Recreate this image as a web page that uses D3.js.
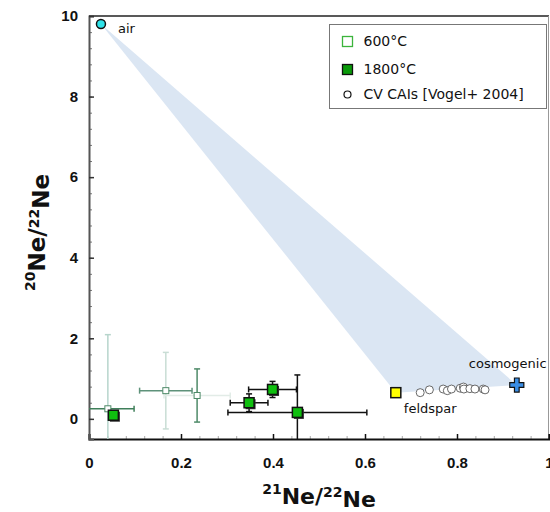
<!DOCTYPE html>
<html>
<head>
<meta charset="utf-8">
<script src="https://cdn.jsdelivr.net/npm/d3@7"></script>
<style>
  body { margin: 0; background: #fff; }
  svg { display: block; font-family: "DejaVu Sans", Verdana, sans-serif; }
</style>
</head>
<body>
<svg id="chart"></svg>
<script>
// 600°C step: x, y, x error, y error
const lowX = [0.041, 0.167, 0.235];
const lowY = [0.25, 0.70, 0.58];
const lowXErr = [0.057, 0.057, 0.072];
const lowYErr = [1.84, 0.95, 0.66];

// 1800°C step
const highX = [0.053, 0.348, 0.399, 0.453];
const highY = [0.09, 0.40, 0.73, 0.16];
const highXErr = [0, 0.041, 0.052, 0.151];
const highYErr = [0, 0.22, 0.20, 0.93];

// CV CAIs [Vogel+ 2004]
const caiX = [0.720, 0.740, 0.770, 0.779, 0.788, 0.807, 0.814, 0.815, 0.828, 0.839, 0.857, 0.861];
const caiY = [0.65, 0.72, 0.74, 0.70, 0.74, 0.76, 0.79, 0.74, 0.75, 0.74, 0.74, 0.72];

// end members
const airPoint = [0.026, 9.8];
const feldsparPoint = [0.667, 0.65];
const cosmogenicPoint = [0.930, 0.84];

const xTicks = [0, 0.2, 0.4, 0.6, 0.8, 1];
const yTicks = [0, 2, 4, 6, 8, 10];

const width = 550;
const height = 512;
const margin = { top: 16, right: 1, bottom: 73, left: 89 };

const svg = d3.select("#chart").attr("width", width).attr("height", height);

const x = d3.scaleLinear().domain([0, 1]).range([margin.left, width - margin.right]);
const y = d3.scaleLinear().domain([-0.5, 10]).range([height - margin.bottom, margin.top]);

svg.append("clipPath").attr("id", "plot-clip")
  .append("rect")
  .attr("x", margin.left).attr("y", margin.top)
  .attr("width", width - margin.left - margin.right)
  .attr("height", height - margin.top - margin.bottom);

// mixing field between air, feldspar and cosmogenic
svg.append("path")
  .datum([airPoint, cosmogenicPoint, feldsparPoint])
  .attr("d", d3.line().x(d => x(d[0])).y(d => y(d[1])).curve(d3.curveLinearClosed))
  .attr("fill", "#dbe6f3");

// frame top and right
svg.append("line").attr("x1", x(0)).attr("x2", x(1)).attr("y1", y(10)).attr("y2", y(10))
  .attr("stroke", "#222").attr("stroke-width", 1.5);
svg.append("line").attr("x1", x(1) - 0.5).attr("x2", x(1) - 0.5).attr("y1", y(10)).attr("y2", y(-0.5))
  .attr("stroke", "#999").attr("stroke-width", 1);

// axes with inward ticks
const minorX = d3.range(0, 1.0001, 0.04);
const minorY = d3.range(0, 10.0001, 0.4);

const xAxis = svg.append("g").attr("transform", `translate(0,${y(-0.5)})`);
xAxis.call(d3.axisBottom(x).tickValues(minorX).tickSize(-3).tickFormat(""))
  .call(g => g.select(".domain").remove())
  .call(g => g.selectAll("line").attr("stroke", "#aaa"));
xAxis.append("g")
  .call(d3.axisBottom(x).tickValues(xTicks).tickSize(-5).tickPadding(18).tickFormat(d => d === 1 ? "1" : d3.format("")(d)))
  .call(g => g.select(".domain").attr("stroke", "#111").attr("stroke-width", 2))
  .call(g => g.selectAll("line").attr("stroke", "#111").attr("stroke-width", 1.5))
  .call(g => g.selectAll("text").attr("fill", "#111").style("font-size", "15px").style("font-weight", "bold"));

const yAxis = svg.append("g").attr("transform", `translate(${x(0)},0)`);
yAxis.call(d3.axisLeft(y).tickValues(minorY).tickSize(-3).tickFormat(""))
  .call(g => g.select(".domain").remove())
  .call(g => g.selectAll("line").attr("stroke", "#777"));
yAxis.append("g")
  .call(d3.axisLeft(y).tickValues(yTicks).tickSize(-5).tickPadding(11))
  .call(g => g.select(".domain").attr("stroke", "#555").attr("stroke-width", 2))
  .call(g => g.selectAll("line").attr("stroke", "#333").attr("stroke-width", 1.5))
  .call(g => g.selectAll("text").attr("fill", "#111").style("font-size", "15px").style("font-weight", "bold"));

const plot = svg.append("g").attr("clip-path", "url(#plot-clip)");

// error bar helper
function errorBars(xs, ys, xe, ye, colorsX, colorsY, cap) {
  xs.forEach((px, i) => {
    if (xe[i] > 0) {
      const g = plot.append("g").attr("stroke", colorsX[i]).attr("stroke-width", 1.5);
      g.append("line").attr("x1", x(px - xe[i])).attr("x2", x(px + xe[i])).attr("y1", y(ys[i])).attr("y2", y(ys[i]));
      [px - xe[i], px + xe[i]].forEach(v => g.append("line")
        .attr("x1", x(v)).attr("x2", x(v)).attr("y1", y(ys[i]) - cap).attr("y2", y(ys[i]) + cap));
    }
    if (ye[i] > 0) {
      const g = plot.append("g").attr("stroke", colorsY[i]).attr("stroke-width", 1.5);
      g.append("line").attr("x1", x(px)).attr("x2", x(px)).attr("y1", y(ys[i] - ye[i])).attr("y2", y(ys[i] + ye[i]));
      [ys[i] - ye[i], ys[i] + ye[i]].forEach(v => g.append("line")
        .attr("x1", x(px) - cap).attr("x2", x(px) + cap).attr("y1", y(v)).attr("y2", y(v)));
    }
  });
}

errorBars(lowX, lowY, lowXErr, lowYErr,
  ["#3f7f5a", "#5e927a", "#e2ece7"], ["#b7d5cc", "#c9ddd5", "#4e8a68"], 3);
errorBars(highX, highY, highXErr, highYErr,
  ["#111", "#111", "#111", "#111"], ["#111", "#111", "#111", "#111"], 3);

// 600°C squares
plot.selectAll(".low-pt").data(lowX).enter().append("rect")
  .attr("class", "low-pt")
  .attr("x", d => x(d) - 3).attr("y", (d, i) => y(lowY[i]) - 3)
  .attr("width", 6).attr("height", 6)
  .attr("fill", "#fff").attr("stroke", "#4e8a68").attr("stroke-width", 1);

// 1800°C squares with shadow
plot.selectAll(".high-shadow").data(highX).enter().append("rect")
  .attr("class", "high-shadow")
  .attr("x", d => x(d) - 3.5).attr("y", (d, i) => y(highY[i]) - 3.5)
  .attr("width", 10).attr("height", 10).attr("fill", "#333");
plot.selectAll(".high-pt").data(highX).enter().append("rect")
  .attr("class", "high-pt")
  .attr("x", d => x(d) - 5).attr("y", (d, i) => y(highY[i]) - 5)
  .attr("width", 10).attr("height", 10)
  .attr("fill", "#0fbf0f").attr("stroke", "#111").attr("stroke-width", 1.5);

// CAIs
plot.selectAll(".cai").data(caiX).enter().append("circle")
  .attr("class", "cai")
  .attr("cx", d => x(d)).attr("cy", (d, i) => y(caiY[i])).attr("r", 4)
  .attr("fill", "#fff").attr("stroke", "#444").attr("stroke-width", 0.8);

// end members
plot.append("circle").attr("cx", x(airPoint[0])).attr("cy", y(airPoint[1])).attr("r", 4.5)
  .attr("fill", "#2fe3ea").attr("stroke", "#111").attr("stroke-width", 1.5);
plot.append("rect").attr("x", x(feldsparPoint[0]) - 5).attr("y", y(feldsparPoint[1]) - 5)
  .attr("width", 10).attr("height", 10)
  .attr("fill", "#ffff00").attr("stroke", "#111").attr("stroke-width", 1.5);
plot.append("path").attr("d", d3.symbol(d3.symbolCross, 110)())
  .attr("transform", `translate(${x(cosmogenicPoint[0])},${y(cosmogenicPoint[1])})`)
  .attr("fill", "#3a8ee6").attr("stroke", "#111").attr("stroke-width", 1.2);

const labelStyle = t => t.style("font-size", "13px").attr("fill", "#111");
svg.append("text").attr("x", x(airPoint[0]) + 17).attr("y", y(airPoint[1]) + 9).text("air").call(labelStyle);
svg.append("text").attr("x", x(feldsparPoint[0]) + 8).attr("y", y(feldsparPoint[1]) + 20).text("feldspar").call(labelStyle);
svg.append("text").attr("x", x(cosmogenicPoint[0]) - 48).attr("y", y(cosmogenicPoint[1]) - 17).text("cosmogenic").call(labelStyle);

// legend
const legend = svg.append("g").attr("transform", "translate(329.5,24.5)");
legend.append("rect").attr("width", 217).attr("height", 84)
  .attr("fill", "#fff").attr("stroke", "#777").attr("stroke-width", 1);
const legendRows = [17, 45, 70];
legend.append("rect").attr("x", 13).attr("y", legendRows[0] - 5).attr("width", 10).attr("height", 10)
  .attr("fill", "#fff").attr("stroke", "#3cb43c").attr("stroke-width", 1.3);
legend.append("rect").attr("x", 13).attr("y", legendRows[1] - 5).attr("width", 10).attr("height", 10)
  .attr("fill", "#0a9a0a").attr("stroke", "#111").attr("stroke-width", 1.3);
legend.append("circle").attr("cx", 18).attr("cy", legendRows[2]).attr("r", 3.5)
  .attr("fill", "#fff").attr("stroke", "#111").attr("stroke-width", 1.2);
["600°C", "1800°C", "CV CAIs [Vogel+ 2004]"].forEach((t, i) => {
  legend.append("text").attr("x", 34).attr("y", legendRows[i]).attr("dy", "0.35em")
    .style("font-size", "14px").attr("fill", "#111").text(t);
});

// axis titles
const yTitle = svg.append("text")
  .attr("transform", `translate(41,${(y(10) + y(-0.5)) / 2 + 5}) rotate(-90)`)
  .attr("text-anchor", "middle").style("font-size", "23px").style("font-weight", "bold").attr("fill", "#111");
yTitle.append("tspan").attr("dy", "-0.45em").style("font-size", "14px").text("20");
yTitle.append("tspan").attr("dy", "0.45em").text("Ne/");
yTitle.append("tspan").attr("dy", "-0.45em").style("font-size", "14px").text("22");
yTitle.append("tspan").attr("dy", "0.45em").text("Ne");

const xTitle = svg.append("text")
  .attr("x", (x(0) + x(1)) / 2).attr("y", 500)
  .attr("text-anchor", "middle").style("font-size", "22px").style("font-weight", "bold").attr("fill", "#111");
xTitle.append("tspan").attr("dy", "-0.45em").style("font-size", "14px").text("21");
xTitle.append("tspan").attr("dy", "0.45em").text("Ne/");
xTitle.append("tspan").attr("dy", "-0.45em").style("font-size", "14px").text("22");
xTitle.append("tspan").attr("dy", "0.45em").text("Ne");
</script>
</body>
</html>
